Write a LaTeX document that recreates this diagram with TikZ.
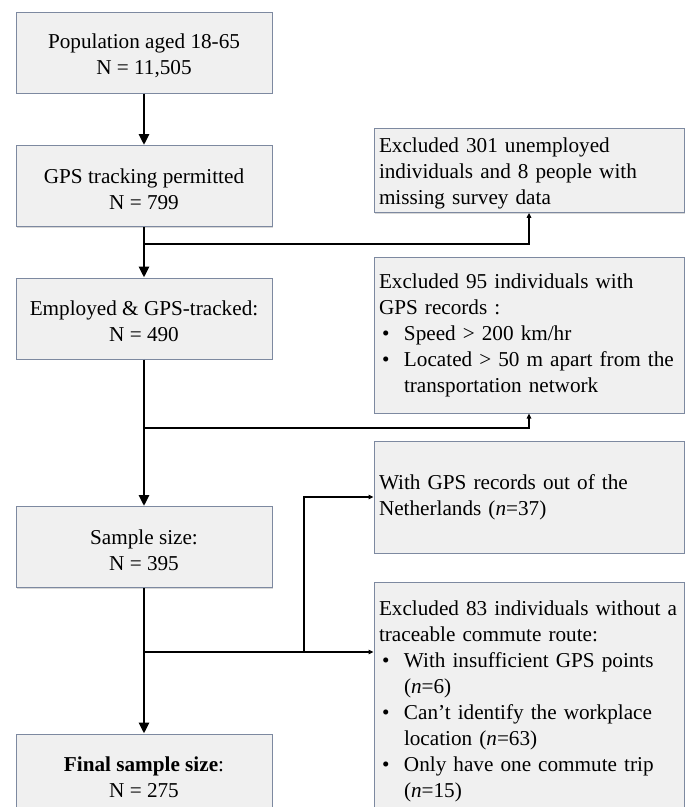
\documentclass[tikz,border=0pt]{standalone}
\usepackage{fontspec}
\setmainfont{Liberation Serif}
\usetikzlibrary{arrows.meta,shadows}
\definecolor{boxline}{RGB}{125,137,160}
\definecolor{boxfill}{RGB}{240,240,240}
\newcommand{\bul}{\makebox[25pt][l]{\hspace{3pt}\textbullet}}
\newcommand{\ind}{\hspace*{25pt}}
\newcommand{\tallstrut}{\rule{0pt}{20.5pt}}
\tikzset{
  flowbox/.style={draw=boxline, fill=boxfill, line width=1pt,
    drop shadow={shadow xshift=1.2pt, shadow yshift=-1.2pt, fill=black!30, opacity=0.5},
    font=\fontsize{21.2}{26}\selectfont},
  mainbox/.style={flowbox, minimum width=256pt, minimum height=81pt, inner sep=0pt, align=center},
  sidebox/.style={flowbox, text width=300pt, inner xsep=5pt, align=left},
  mainarrow/.style={line width=2.8pt, -{Triangle[width=10pt,length=11pt]}},
  sidearrow/.style={line width=1.3pt, -{Triangle[width=4.5pt,length=5pt]}},
}
\begin{document}
\begin{tikzpicture}[x=1pt,y=1pt]
\useasboundingbox (0,0) rectangle (694,-807);
\clip (0,0) rectangle (694,-807);
\fill[white] (0,0) rectangle (694,-807);

\node[mainbox] (b1) at (144,-52.5) {\tallstrut Population aged 18-65\\N = 11,505};
\node[mainbox] (b2) at (144,-186) {\tallstrut GPS tracking permitted\\N = 799};
\node[mainbox] (b3) at (144,-318.5) {\tallstrut Employed \& GPS-tracked:\\N = 490};
\node[mainbox] (b4) at (144,-547) {\tallstrut Sample size:\\N = 395};
\node[mainbox] (b5) at (144,-774.5) {\tallstrut\textbf{Final sample size}:\\N = 275};

\node[sidebox, minimum height=81pt] (r1) at (529,-170.5)
  {\tallstrut Excluded 301 unemployed\\individuals and 8 people with\\missing survey data};
\node[sidebox, minimum height=156pt] (r2) at (529,-335)
  {Excluded 95 individuals with\\GPS records :\\\bul Speed > 200 km/hr\\\bul Located > 50 m apart from the\\\ind transportation network};
\node[sidebox, minimum height=112pt] (r3) at (529,-497)
  {With GPS records out of the\\Netherlands (\textit{n}=37)};
\node[sidebox, anchor=north, inner ysep=18pt] (r4) at (529,-582)
  {Excluded 83 individuals without a\\traceable commute route:\\\bul With insufficient GPS points\\\ind(\textit{n}=6)\\\bul Can’t identify the workplace\\\ind location (\textit{n}=63)\\\bul Only have one commute trip\\\ind(\textit{n}=15)};

\coordinate (j1) at (144,-244);
\coordinate (j2) at (144,-428);
\coordinate (j3) at (144,-652);
\coordinate (j4) at (304,-652);

\draw[mainarrow] (b1) -- (b2);
\draw[mainarrow] (b2) -- (b3);
\draw[mainarrow] (b3) -- (b4);
\draw[mainarrow] (b4) -- (b5);

\draw[sidearrow] (j1) -| (r1.south);
\draw[sidearrow] (j2) -| (r2.south);
\draw[sidearrow] (j3) -- (j3 -| r4.west);
\draw[sidearrow] (j4) |- (r3.west);
\end{tikzpicture}
\end{document}
